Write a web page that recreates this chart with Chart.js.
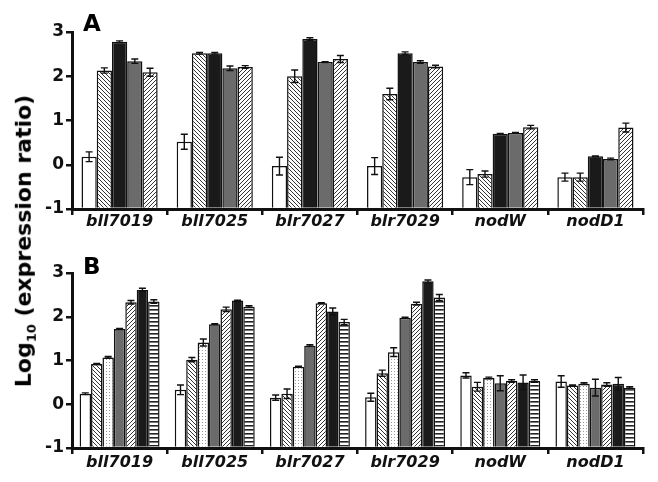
<!DOCTYPE html>
<html>
<head>
<meta charset="utf-8">
<script src="https://cdn.jsdelivr.net/npm/chart.js@4.4.1/dist/chart.umd.min.js"></script>
<style>
  body { margin: 0; background: #fff; }
  #wrap { position: relative; width: 658px; height: 482px; font-family: "DejaVu Sans", sans-serif; }
  canvas { position: absolute; left: 0; }
  #cA { top: 0; }
  #cB { top: 241px; }
  .panel { position: absolute; font-weight: bold; font-size: 23px; line-height: 23px; }
  #ytitle { position: absolute; left: 25px; top: 241px; transform: translate(-50%, -50%) rotate(-90deg);
            white-space: nowrap; font-weight: bold; font-size: 22px; }
  #ytitle sub { font-size: 13px; }
</style>
</head>
<body>
<div id="wrap">
  <canvas id="cA" width="658" height="241"></canvas>
  <canvas id="cB" width="658" height="241"></canvas>
  <div class="panel" style="left:83px; top:12px;">A</div>
  <div class="panel" style="left:83px; top:255px;">B</div>
  <div id="ytitle">Log<sub>10</sub> (expression ratio)</div>
</div>
<script>
// genes on the x axis
const genes = ["bll7019", "bll7025", "blr7027", "blr7029", "nodW", "nodD1"];
const yMin = -1, yMax = 3;

// panel A values (log10 expression ratio) and error bars
const aWhite = [0.18, 0.52, -0.03, -0.03, -0.28, -0.28];
const aWhiteErr = [0.11, 0.17, 0.2, 0.19, 0.17, 0.09];
const aHatch1 = [2.13, 2.52, 2.0, 1.6, -0.21, -0.28];
const aHatch1Err = [0.06, 0.02, 0.14, 0.13, 0.07, 0.09];
const aBlack = [2.78, 2.52, 2.84, 2.52, 0.7, 0.19];
const aBlackErr = [0.02, 0.02, 0.03, 0.03, 0.01, 0.01];
const aGray = [2.34, 2.18, 2.32, 2.32, 0.72, 0.13];
const aGrayErr = [0.05, 0.05, 0.01, 0.03, 0.01, 0.02];
const aHatch2 = [2.09, 2.21, 2.39, 2.22, 0.85, 0.84];
const aHatch2Err = [0.09, 0.03, 0.08, 0.03, 0.04, 0.1];

// panel B values and error bars
const bWhite = [0.24, 0.33, 0.15, 0.16, 0.66, 0.52];
const bWhiteErr = [0.02, 0.11, 0.06, 0.09, 0.06, 0.13];
const bHatch1 = [0.92, 1.02, 0.24, 0.71, 0.4, 0.43];
const bHatch1Err = [0.01, 0.05, 0.11, 0.07, 0.1, 0.01];
const bDots = [1.07, 1.41, 0.86, 1.19, 0.6, 0.47];
const bDotsErr = [0.02, 0.08, 0.01, 0.1, 0.02, 0.02];
const bGray = [1.72, 1.83, 1.34, 1.98, 0.48, 0.38];
const bGrayErr = [0.01, 0.01, 0.02, 0.01, 0.17, 0.19];
const bHatch2 = [2.33, 2.17, 2.31, 2.3, 0.53, 0.45];
const bHatch2Err = [0.04, 0.05, 0.01, 0.03, 0.03, 0.04];
const bBlack = [2.61, 2.37, 2.12, 2.81, 0.5, 0.47];
const bBlackErr = [0.04, 0.01, 0.08, 0.03, 0.17, 0.14];
const bStripes = [2.35, 2.23, 1.88, 2.44, 0.53, 0.38];
const bStripesErr = [0.04, 0.02, 0.06, 0.07, 0.03, 0.02];

Chart.defaults.font.family = "DejaVu Sans";
Chart.defaults.color = "#111";

function diag(dir, gap, lw, col) {
  const c = document.createElement("canvas");
  c.width = c.height = gap;
  const g = c.getContext("2d");
  g.fillStyle = "#fff";
  g.fillRect(0, 0, gap, gap);
  g.strokeStyle = col;
  g.lineWidth = lw;
  g.beginPath();
  if (dir > 0) {
    g.moveTo(-1, gap + 1); g.lineTo(gap + 1, -1);
    g.moveTo(-1, 1); g.lineTo(1, -1);
    g.moveTo(gap - 1, gap + 1); g.lineTo(gap + 1, gap - 1);
  } else {
    g.moveTo(-1, -1); g.lineTo(gap + 1, gap + 1);
    g.moveTo(gap - 1, -1); g.lineTo(gap + 1, 1);
    g.moveTo(-1, gap - 1); g.lineTo(1, gap + 1);
  }
  g.stroke();
  return g.createPattern(c, "repeat");
}
function dots() {
  const c = document.createElement("canvas");
  c.width = c.height = 3;
  const g = c.getContext("2d");
  g.fillStyle = "#fff";
  g.fillRect(0, 0, 3, 3);
  g.fillStyle = "#999";
  g.fillRect(1, 1, 1, 1);
  return g.createPattern(c, "repeat");
}
function stripes() {
  const c = document.createElement("canvas");
  c.width = 4; c.height = 4;
  const g = c.getContext("2d");
  g.fillStyle = "#fff";
  g.fillRect(0, 0, 4, 4);
  g.fillStyle = "#222";
  g.fillRect(0, 0, 4, 1.6);
  return g.createPattern(c, "repeat");
}

// draws the error bars stored on each dataset
const errBars = {
  id: "errBars",
  afterDatasetsDraw(chart) {
    const ctx = chart.ctx, y = chart.scales.y;
    ctx.save();
    ctx.strokeStyle = "#111";
    ctx.lineWidth = 1.4;
    chart.data.datasets.forEach((ds, i) => {
      chart.getDatasetMeta(i).data.forEach((bar, j) => {
        const v = ds.data[j], e = ds.err[j];
        const y1 = y.getPixelForValue(v - e), y2 = y.getPixelForValue(v + e);
        const x = bar.x;
        ctx.beginPath();
        ctx.moveTo(x, y1); ctx.lineTo(x, y2);
        ctx.moveTo(x - 3.5, y1); ctx.lineTo(x + 3.5, y1);
        ctx.moveTo(x - 3.5, y2); ctx.lineTo(x + 3.5, y2);
        ctx.stroke();
      });
    });
    ctx.restore();
  }
};

function set(data, err, fill) {
  return { data: data, err: err, backgroundColor: fill, borderColor: "#111", borderWidth: 1.5, base: yMin };
}

function makeChart(id, datasets, catPct, xh, lblPad) {
  return new Chart(document.getElementById(id), {
    type: "bar",
    data: { labels: genes, datasets: datasets },
    options: {
      responsive: false,
      animation: false,
      categoryPercentage: catPct,
      barPercentage: 1.0,
      layout: { padding: { left: 0, right: 15, top: 32, bottom: 0 } },
      plugins: { legend: { display: false }, tooltip: { enabled: false } },
      scales: {
        x: {
          offset: true,
          afterFit: (s) => { s.height = xh; },
          grid: { offset: true, drawOnChartArea: false, tickLength: 6, lineWidth: 2.5, color: "#111" },
          border: { width: 3, color: "#111" },
          ticks: { padding: lblPad, color: "#111", font: { size: 16, weight: "bold", style: "italic" } }
        },
        y: {
          min: yMin, max: yMax,
          afterFit: (s) => { s.width = 72; },
          grid: { drawOnChartArea: false, tickLength: 6, lineWidth: 2.5, color: "#111" },
          border: { width: 3, color: "#111" },
          ticks: { stepSize: 1, padding: 2, color: "#111", font: { size: 17, weight: "bold" } }
        }
      }
    },
    plugins: [errBars]
  });
}

makeChart("cA", [
  set(aWhite, aWhiteErr, "#fff"),
  set(aHatch1, aHatch1Err, diag(-1, 4, 1, "#333")),
  set(aBlack, aBlackErr, "#1a1a1a"),
  set(aGray, aGrayErr, "#6b6b6b"),
  set(aHatch2, aHatch2Err, diag(1, 4, 1, "#333"))
], 0.8, 32, -3);

makeChart("cB", [
  set(bWhite, bWhiteErr, "#fff"),
  set(bHatch1, bHatch1Err, diag(-1, 4, 1, "#333")),
  set(bDots, bDotsErr, dots()),
  set(bGray, bGrayErr, "#6b6b6b"),
  set(bHatch2, bHatch2Err, diag(1, 4, 1, "#333")),
  set(bBlack, bBlackErr, "#1a1a1a"),
  set(bStripes, bStripesErr, stripes())
], 0.84, 34, -1);
</script>
</body>
</html>
